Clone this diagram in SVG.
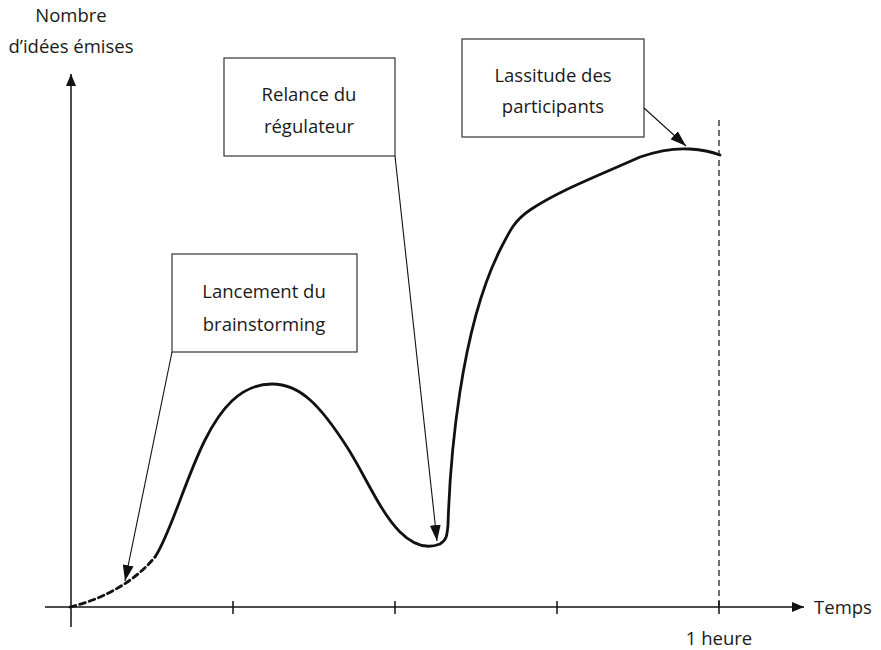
<svg xmlns="http://www.w3.org/2000/svg" width="881" height="650" viewBox="0 0 881 650">
<style>
text{font-family:"Open Sans","Noto Sans",sans-serif;font-size:18.5px;fill:#1a1a1a;text-anchor:middle}
.box{fill:#fff;stroke:#333;stroke-width:1.2}
.ax{stroke:#111;stroke-width:1.5;fill:none}
.lead{stroke:#111;stroke-width:1.1;fill:none}
.curve{stroke:#111;stroke-width:2.8;fill:none;stroke-linecap:round}
</style>
<defs>
<marker id="ah" markerWidth="12" markerHeight="10" refX="12" refY="5" orient="auto" markerUnits="userSpaceOnUse">
<path d="M0,0 L12,5 L0,10 Z" fill="#111"/>
</marker>
<marker id="ah2" markerWidth="16" markerHeight="11" refX="16" refY="5.5" orient="auto" markerUnits="userSpaceOnUse">
<path d="M0,0 L16,5.5 L0,11 Z" fill="#111"/>
</marker>
</defs>
<g id="axes">
<line class="ax" x1="71" y1="627" x2="71" y2="74" marker-end="url(#ah)"/>
<line class="ax" x1="45" y1="607" x2="804" y2="607" marker-end="url(#ah)"/>
<line class="ax" x1="233" y1="601" x2="233" y2="614"/>
<line class="ax" x1="395" y1="601" x2="395" y2="614"/>
<line class="ax" x1="557" y1="601" x2="557" y2="614"/>
<line class="ax" x1="719" y1="601" x2="719" y2="614"/>
<line x1="719" y1="120" x2="719" y2="607" stroke="#111" stroke-width="1.2" stroke-dasharray="6,4"/>
<text x="71" y="22">Nombre</text>
<text x="71" y="53">d’idées émises</text>
<text x="843" y="614">Temps</text>
<text x="719" y="645">1 heure</text>
</g>
<g id="curve">
<path class="curve" stroke-dasharray="6,4" d="M70,607 C95,601 130,587 155,557"/>
<path class="curve" d="M155,557 C170,535 185,480 205,440 C220,410 240,384 272,384 C300,384 320,405 347,447 C365,475 380,512 400,532 C412,544 425,550 440,544 C447,540 447,535 448,525 C450,460 460,330 500,250 C510,230 515,220 530,210 C560,190 600,175 640,157 C660,150 675,148 690,149 C705,150 712,152 720,155"/>
</g>
<g id="box-lancement">
<rect class="box" x="172" y="254" width="185" height="98"/>
<text x="264" y="298">Lancement du</text>
<text x="264" y="331">brainstorming</text>
</g>
<g id="box-relance">
<rect class="box" x="224" y="58" width="171" height="98"/>
<text x="309" y="101">Relance du</text>
<text x="309" y="133">régulateur</text>
</g>
<g id="box-lassitude">
<rect class="box" x="462" y="39" width="182" height="98"/>
<text x="553" y="82">Lassitude des</text>
<text x="553" y="113">participants</text>
</g>
<g id="connectors">
<line class="lead" x1="172" y1="352" x2="125" y2="581" marker-end="url(#ah2)"/>
<line class="lead" x1="395" y1="156" x2="437" y2="541" marker-end="url(#ah2)"/>
<line class="lead" x1="644" y1="108" x2="686" y2="146" marker-end="url(#ah2)"/>
</g>
</svg>
